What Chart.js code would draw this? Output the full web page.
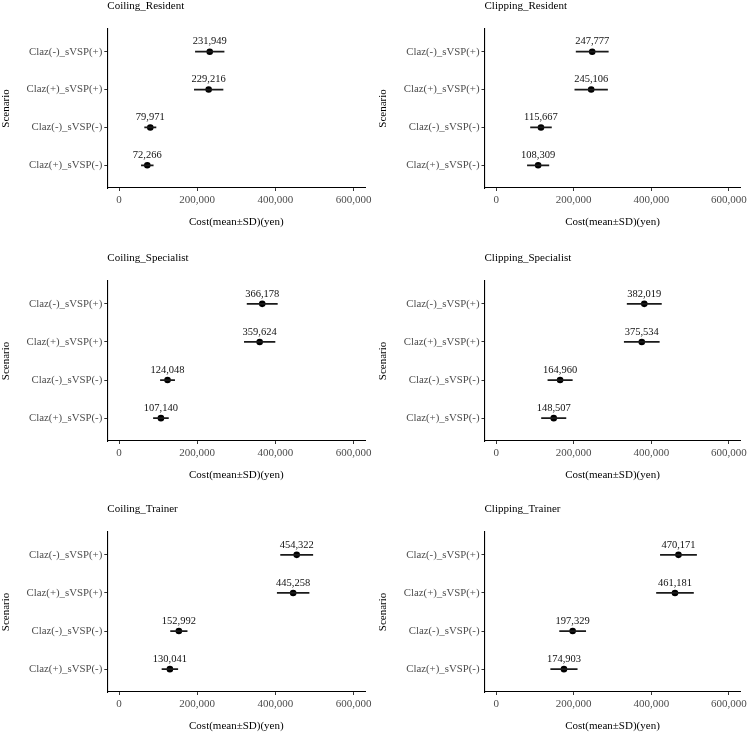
<!DOCTYPE html>
<html>
<head>
<meta charset="utf-8">
<script src="https://cdn.jsdelivr.net/npm/chart.js@4.4.1/dist/chart.umd.min.js"></script>
<style>
  html, body { margin: 0; padding: 0; background: #fff; overflow: hidden; }
  body { width: 750px; height: 733px; position: relative; }
  .panel { position: absolute; }
</style>
</head>
<body>
<div id="wrap"></div>
<script>
// scenario order from bottom (1) to top (4)
const scenarios = ['Claz(+)_sVSP(-)', 'Claz(-)_sVSP(-)', 'Claz(+)_sVSP(+)', 'Claz(-)_sVSP(+)'];
const panelTitles = ['Coiling_Resident', 'Clipping_Resident', 'Coiling_Specialist',
                     'Clipping_Specialist', 'Coiling_Trainer', 'Clipping_Trainer'];
const xTicks = [0, 200000, 400000, 600000];

const coilingResidentMean = [72266, 79971, 229216, 231949];
const coilingResidentSD = [16000, 15300, 37500, 37500];
const clippingResidentMean = [108309, 115667, 245106, 247777];
const clippingResidentSD = [28500, 27800, 43000, 42300];
const coilingSpecialistMean = [107140, 124048, 359624, 366178];
const coilingSpecialistSD = [20000, 19000, 40000, 39500];
const clippingSpecialistMean = [148507, 164960, 375534, 382019];
const clippingSpecialistSD = [32300, 32300, 46000, 45000];
const coilingTrainerMean = [130041, 152992, 445258, 454322];
const coilingTrainerSD = [21000, 22000, 41500, 42000];
const clippingTrainerMean = [174903, 197329, 461181, 470171];
const clippingTrainerSD = [35000, 34500, 48500, 47500];

const means = [coilingResidentMean, clippingResidentMean, coilingSpecialistMean,
               clippingSpecialistMean, coilingTrainerMean, clippingTrainerMean];
const sds = [coilingResidentSD, clippingResidentSD, coilingSpecialistSD,
             clippingSpecialistSD, coilingTrainerSD, clippingTrainerSD];

// layout of the 3x2 grid
const FONT = "'Liberation Serif', 'DejaVu Serif', serif";
const rowTop = [0, 244, 488];
const rowH = [244, 244, 245];
const chartTop = [29, 281, 532];
const chartBottom = [188, 441, 692];
const X_AXIS_H = 41;

const fmt = v => Math.round(v).toLocaleString('en-US');

// panel title + value labels above points
const labelPlugin = {
  id: 'labels',
  afterDatasetsDraw(chart) {
    const ctx = chart.ctx;
    const area = chart.chartArea;
    ctx.save();
    ctx.fillStyle = '#000';
    ctx.font = '11px ' + FONT;
    ctx.textAlign = 'left';
    ctx.textBaseline = 'middle';
    ctx.fillText(chart.options.plugins.labels.title, area.left, area.top - 23);

    const ds = chart.data.datasets[chart.data.datasets.length - 1];
    const xs = chart.scales.x, ys = chart.scales.y;
    ctx.font = '10.5px ' + FONT;
    ctx.textAlign = 'center';
    ctx.fillStyle = '#111';
    ds.data.forEach(p => {
      ctx.fillText(fmt(p.x), xs.getPixelForValue(p.x), ys.getPixelForValue(p.y) - 10);
    });
    ctx.restore();
  }
};

panelTitles.forEach((title, k) => {
  const col = k % 2, row = Math.floor(k / 2);
  const div = document.createElement('div');
  div.className = 'panel';
  div.style.left = (col * 375) + 'px';
  div.style.top = rowTop[row] + 'px';
  div.style.width = '375px';
  div.style.height = rowH[row] + 'px';
  const canvas = document.createElement('canvas');
  div.appendChild(canvas);
  document.getElementById('wrap').appendChild(div);

  const m = means[k], s = sds[k];
  const datasets = [];
  m.forEach((v, i) => {
    datasets.push({
      data: [{ x: v - s[i], y: i + 1 }, { x: v + s[i], y: i + 1 }],
      showLine: true,
      borderColor: '#1a1a1a',
      borderWidth: 1.7,
      pointRadius: 0,
      pointHoverRadius: 0
    });
  });
  datasets.push({
    data: m.map((v, i) => ({ x: v, y: i + 1 })),
    pointRadius: 3.3,
    pointBackgroundColor: '#000',
    pointBorderWidth: 0
  });

  const padTop = chartTop[row] - rowTop[row];
  const chartH = chartBottom[row] - chartTop[row];
  const padBottom = Math.max(0, rowH[row] - padTop - chartH - X_AXIS_H);
  const padLeft = col === 0 ? 0 : 2;
  const yWidth = col === 0 ? 107.3 : 107.5;
  const padRight = col === 0 ? 9.6 : 6.7;

  new Chart(canvas, {
    type: 'scatter',
    data: { datasets },
    plugins: [labelPlugin],
    options: {
      responsive: true,
      maintainAspectRatio: false,
      animation: false,
      events: [],
      layout: { padding: { top: padTop, bottom: padBottom, left: padLeft, right: padRight } },
      plugins: {
        legend: { display: false },
        tooltip: { enabled: false },
        labels: { title }
      },
      scales: {
        x: {
          type: 'linear',
          min: -30000,
          max: 630000,
          afterBuildTicks: sc => { sc.ticks = xTicks.map(v => ({ value: v })); },
          afterFit: sc => { sc.height = X_AXIS_H; },
          ticks: {
            color: '#4d4d4d',
            font: { family: FONT, size: 11 },
            padding: 3,
            maxRotation: 0,
            callback: v => fmt(v)
          },
          grid: { drawOnChartArea: false, drawTicks: true, tickLength: 3, color: '#333', lineWidth: 1 },
          border: { display: true, color: '#000', width: 1.1 },
          title: {
            display: true,
            text: 'Cost(mean±SD)(yen)',
            color: '#000',
            font: { family: FONT, size: 11 },
            padding: 0
          }
        },
        y: {
          type: 'linear',
          min: 0.4,
          max: 4.6,
          afterBuildTicks: sc => { sc.ticks = scenarios.map((_, i) => ({ value: i + 1 })); },
          afterFit: sc => { sc.width = yWidth; },
          ticks: {
            color: '#4d4d4d',
            font: { family: FONT, size: 10.8 },
            padding: 2,
            callback: v => scenarios[v - 1]
          },
          grid: { drawOnChartArea: false, drawTicks: true, tickLength: 3, color: '#333', lineWidth: 1 },
          border: { display: true, color: '#000', width: 1.1 },
          title: {
            display: true,
            text: 'Scenario',
            color: '#000',
            font: { family: FONT, size: 11 },
            padding: 0
          }
        }
      }
    }
  });
});
</script>
</body>
</html>
